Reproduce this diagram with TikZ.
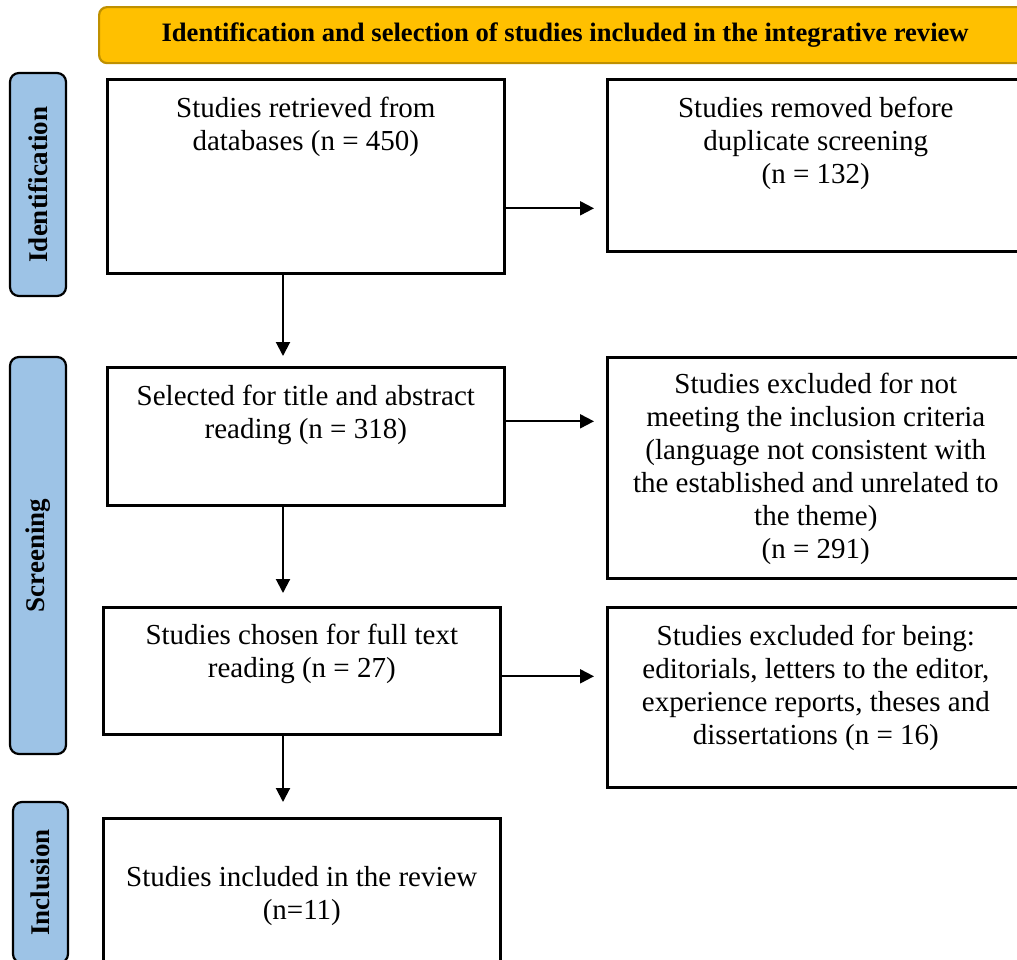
\documentclass[tikz,border=0pt]{standalone}
\usepackage{fontspec}
\setmainfont{Liberation Serif}
\usetikzlibrary{positioning,arrows.meta}
\definecolor{bannerfill}{HTML}{FFC000}
\definecolor{bannerline}{HTML}{BF9000}
\definecolor{stagefill}{HTML}{9DC3E6}

\begin{document}
\begin{tikzpicture}[x=1pt,y=-1pt,
  box/.style={draw=black, line width=2.6pt, inner sep=0pt, anchor=north west},
  txt/.style={align=center, inner sep=0pt, anchor=north, font=\fontsize{29}{33}\selectfont},
  stage/.style={draw=black, fill=stagefill, line width=2.2pt, rounded corners=9pt, inner sep=0pt, rotate=90, font=\fontsize{27}{30}\selectfont\bfseries},
  banner/.style={draw=bannerline, fill=bannerfill, line width=2.2pt, rounded corners=8pt, inner sep=0pt, anchor=north west, font=\fontsize{26.6}{30}\selectfont\bfseries},
  arr/.style={line width=2pt, -{Triangle[length=14pt,width=14pt]}}]
\useasboundingbox (0,0) rectangle (1017,959);
\clip (0,0) rectangle (1017,959);

% title bar
\node[banner, minimum width=932pt, minimum height=56pt] (title) at (98,6) {Identification and selection of studies included in the integrative review};

% stages
\node[stage, minimum width=223pt, minimum height=56pt] (ident) at (38,184.5) {Identification};
\node[stage, minimum width=397pt, minimum height=56pt] (screen) at (38,555.5) {Screening};
\node[stage, minimum width=161pt, minimum height=55pt] (incl) at (40.5,882.5) {Inclusion};

% boxes
\node[box, minimum width=397pt, minimum height=194pt] (b1) at (106,78) {};
\node[txt] (t1) at ([yshift=-19pt]b1.north) {Studies retrieved from\\databases (n = 450)};
\node[box, minimum width=417pt, minimum height=172pt] (b2) at (606,78) {};
\node[txt] (t2) at ([yshift=-19pt]b2.north) {Studies removed before\\duplicate screening\\(n = 132)};
\node[box, minimum width=397pt, minimum height=138pt] (b3) at (106,366) {};
\node[txt] (t3) at ([yshift=-19pt]b3.north) {Selected for title and abstract\\reading (n = 318)};
\node[box, minimum width=417pt, minimum height=221pt] (b4) at (606,356) {};
\node[txt] (t4) at ([yshift=-17pt]b4.north) {Studies excluded for not\\meeting the inclusion criteria\\(language not consistent with\\the established and unrelated to\\the theme)\\(n = 291)};
\node[box, minimum width=397pt, minimum height=127pt] (b5) at (102,606) {};
\node[txt] (t5) at ([yshift=-18pt]b5.north) {Studies chosen for full text\\reading (n = 27)};
\node[box, minimum width=417pt, minimum height=180pt] (b6) at (606,606) {};
\node[txt] (t6) at ([yshift=-19pt]b6.north) {Studies excluded for being:\\editorials, letters to the editor,\\experience reports, theses and\\dissertations (n = 16)};
\node[box, minimum width=397pt, minimum height=154pt] (b7) at (102,817) {};
\node[txt] (t7) at ([yshift=-49pt]b7.north) {Studies included in the review\\(n=11)};

% arrows down
\coordinate (dn) at (283,0);
\draw[arr, shorten >=10pt] (b1.south -| dn) -- (b3.north -| dn);
\draw[arr, shorten >=13pt] (b3.south -| dn) -- (b5.north -| dn);
\draw[arr, shorten >=15pt] (b5.south -| dn) -- (b7.north -| dn);

% arrows right
\coordinate (a1) at ([yshift=-32pt]b1.east);
\coordinate (a3) at ([yshift=15pt]b3.east);
\coordinate (a5) at ([yshift=-5.5pt]b5.east);
\draw[arr, shorten >=12pt] (a1) -- (a1 -| b2.west);
\draw[arr, shorten >=12pt] (a3) -- (a3 -| b4.west);
\draw[arr, shorten >=12pt] (a5) -- (a5 -| b6.west);
\end{tikzpicture}
\end{document}
